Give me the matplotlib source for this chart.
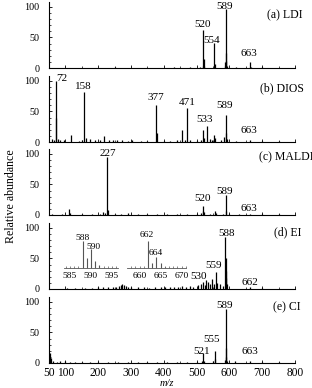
import matplotlib
matplotlib.use('Agg')
import matplotlib.pyplot as plt

plt.rcParams['font.family'] = ['Liberation Serif', 'DejaVu Serif']

# ---------------- data ----------------
ldi_mz = [75, 150, 250, 350, 430, 480, 510, 518, 520, 522, 524, 552, 554, 556,
          586, 588, 589, 590, 591, 593, 620, 663, 665, 700, 750]
ldi_int = [0.8, 0.8, 1, 0.8, 1, 1, 1.5, 4, 62, 14, 4, 3, 41, 6,
           4, 10, 96, 25, 12, 4, 1.5, 10, 2, 1, 0.8]

dios_mz = [58, 66, 70, 72, 76, 84, 95, 117, 140, 150, 158, 162, 175, 190, 205, 217,
           232, 245, 258, 272, 290, 302, 330, 350, 377, 380, 400, 420, 440, 455, 465,
           471, 480, 500, 512, 520, 524, 533, 540, 548, 552, 556, 575, 585, 589, 591,
           594, 620, 663, 700, 750]
dios_int = [5, 4, 40, 100, 5, 3, 3, 11, 2, 3, 82, 6, 5, 3, 3, 10,
            3, 4, 3, 4, 2, 3, 2, 2, 61, 15, 2, 2, 3, 20, 3,
            55, 3, 2, 3, 20, 6, 26, 5, 4, 11, 6, 4, 8, 45, 15,
            5, 2, 3, 1, 1]

maldi_mz = [60, 90, 111, 113, 150, 180, 205, 215, 222, 227, 229, 250, 270, 290, 320,
            350, 380, 410, 440, 470, 500, 512, 518, 520, 524, 540, 555, 558, 580, 589,
            591, 600, 630, 663, 700, 750]
maldi_int = [1, 1, 10, 3, 1, 1.5, 2, 5, 4, 95, 8, 2, 1.5, 4, 1.5,
             1.5, 1.5, 1.5, 2, 1.5, 2, 3, 6, 15, 5, 2, 7, 3, 2, 32,
             7, 2, 1.5, 2, 1, 1]

ei_mz = [105, 130, 160, 180, 200, 215, 230, 245, 255, 262, 268, 273, 278, 285, 292,
         300, 320, 340, 355, 372, 390, 405, 418, 430, 443, 455, 467, 480, 490, 503,
         512, 519, 525, 530, 534, 540, 546, 552, 559, 563, 570, 579, 588, 589, 590,
         591, 592, 662, 700]
ei_int = [1.5, 1.5, 2, 2, 2.5, 2.5, 3, 3, 4, 5, 7, 8, 6, 5, 4,
          3, 2.5, 3, 2, 3, 2.5, 4, 3, 4, 3, 5, 4, 5, 4, 6,
          8, 12, 7, 15, 12, 8, 16, 9, 28, 10, 9, 5, 85, 30, 50,
          18, 8, 3, 1]

ci_mz = [52, 55, 62, 75, 85, 100, 115, 130, 150, 175, 200, 230, 260, 290, 320, 350,
         380, 410, 440, 470, 500, 515, 521, 523, 550, 555, 557, 586, 589, 590, 591,
         593, 617, 663, 700, 750]
ci_int = [17, 8, 3, 2, 3, 3, 2, 2, 2, 2, 2, 2, 2, 2, 2, 2,
          2, 2, 2, 2, 2, 3, 16, 4, 3, 20, 6, 5, 89, 25, 10,
          3, 3, 3, 1, 1]

# EI isotope insets
inset1_mz = [588, 589, 590, 591, 592]
inset1_int = [100, 37, 69, 25, 12]
inset2_mz = [662, 663, 664, 665, 666]
inset2_int = [100, 17, 40, 20, 4]

titles = ['(a) LDI', '(b) DIOS', '(c) MALDI', '(d) EI', '(e) CI']
labels = [
    [520, 554, 589, 663],
    [72, 158, 377, 471, 533, 589, 663],
    [227, 520, 589, 663],
    [588, 559, 530, 662],
    [589, 555, 521, 663],
]
inset1_labels = [588, 590]
inset2_labels = [662, 664]

x_ticks = [50, 100, 200, 300, 400, 500, 600, 700, 800]
y_ticks = [0, 50, 100]

# ---------------- layout ----------------
W, H = 312, 388
fig = plt.figure(figsize=(W / 100, H / 100), dpi=100)


def fx(px):
    return px / W


def fy(py):
    return 1 - py / H


AX_L, AX_R = 49, 295
PANEL_BOTTOMS = [68, 142, 215, 289, 363]
PANEL_H = 66
YMAX = 108

# label positions: (x in m/z, baseline y in data units)
label_pos = [
    [(519.5, 67.6), (547, 41.4), (586.6, 97), (659.8, 20)],
    [(89.6, 100.3), (153.7, 87.2), (376, 69.2), (470.7, 61), (525.6, 33.2),
     (586.6, 56.1), (659.8, 15.2)],
    [(229.9, 97), (519.5, 23.4), (586.6, 34.9), (659.8, 7.0)],
    [(590, 87.2), (553, 34.9), (507, 16.9), (662.8, 7.0)],
    [(586.6, 90.5), (547, 34.9), (514, 15.2), (662.8, 15.2)],
]
title_pos = [(267, 15), (260, 88), (259, 157), (274, 232), (273, 307)]

spectra = [(ldi_mz, ldi_int), (dios_mz, dios_int), (maldi_mz, maldi_int),
           (ei_mz, ei_int), (ci_mz, ci_int)]

for i, (mz, inten) in enumerate(spectra):
    bottom = PANEL_BOTTOMS[i]
    ax = fig.add_axes([fx(AX_L), fy(bottom), fx(AX_R - AX_L), PANEL_H / H])
    ax.vlines(mz, 0, inten, color='black', lw=0.9)
    ax.set_xlim(50, 800)
    ax.set_ylim(0, YMAX)
    for s in ['top', 'right']:
        ax.spines[s].set_visible(False)
    for s in ['left', 'bottom']:
        ax.spines[s].set_linewidth(0.8)
    ax.set_yticks(y_ticks)
    ax.set_yticks(range(0, 101, 10), minor=True)
    ax.set_xticks(x_ticks)
    ax.set_xticks(range(150, 800, 100), minor=True)
    ax.tick_params(axis='y', which='major', direction='in', length=2.5, width=0.6,
                   labelsize=7.3, pad=7)
    ax.tick_params(axis='y', which='minor', direction='in', length=1.2, width=0.5)
    ax.tick_params(axis='x', which='major', direction='in', length=2, width=0.6,
                   labelsize=8.3, pad=3)
    ax.tick_params(axis='x', which='minor', direction='in', length=1.2, width=0.5)
    if i < 4:
        ax.tick_params(axis='x', labelbottom=False)
    ax.patch.set_alpha(0)
    for lab, (lx, ly) in zip(labels[i], label_pos[i]):
        ax.text(lx, ly, str(lab), ha='center', va='baseline', fontsize=8,
                clip_on=False)
    tx, ty = title_pos[i]
    fig.text(fx(tx), fy(ty), titles[i], ha='left', va='center', fontsize=8.5)

# insets in panel (d)
INSET_BASE = 268
INSET_H = 30
PX_PER_U = 4.2
insets = [
    (inset1_mz, inset1_int, (583.5, 596.5), 63.7, [585, 590, 595], inset1_labels,
     [(588, 104), (590.7, 71)]),
    (inset2_mz, inset2_int, (657, 671), 127, [660, 665, 670], inset2_labels,
     [(661.6, 113), (663.9, 48)]),
]
for imz, iint, xl, left_px, ticks, ilabs, ipos in insets:
    wpx = (xl[1] - xl[0]) * PX_PER_U
    iax = fig.add_axes([fx(left_px), fy(INSET_BASE), fx(wpx), INSET_H / H])
    iax.vlines(imz, 0, iint, color='#555555', lw=0.8)
    iax.set_xlim(*xl)
    iax.set_ylim(0, 110)
    for s in ['top', 'right', 'left']:
        iax.spines[s].set_visible(False)
    iax.spines['bottom'].set_linewidth(0.6)
    iax.spines['bottom'].set_color('#555555')
    iax.set_yticks([])
    iax.set_xticks(ticks)
    iax.set_xticks(range(int(xl[0]) + 1, int(xl[1]) + 1), minor=True)
    iax.tick_params(axis='x', which='both', direction='in', length=1.5, width=0.5,
                    color='#555555', labelsize=6.8, pad=3)
    iax.patch.set_alpha(0)
    for lab, (lx, ly) in zip(ilabs, ipos):
        iax.text(lx, ly, str(lab), ha='center', va='baseline', fontsize=6.8,
                 clip_on=False)

fig.text(fx(11), fy(196), 'Relative abundance', rotation=90, ha='center',
         va='center', fontsize=8.6)
fig.text(fx(167), fy(388), 'm/z', ha='center', va='bottom', fontsize=7.5,
         style='italic')

fig.savefig('out.png', dpi=100)
